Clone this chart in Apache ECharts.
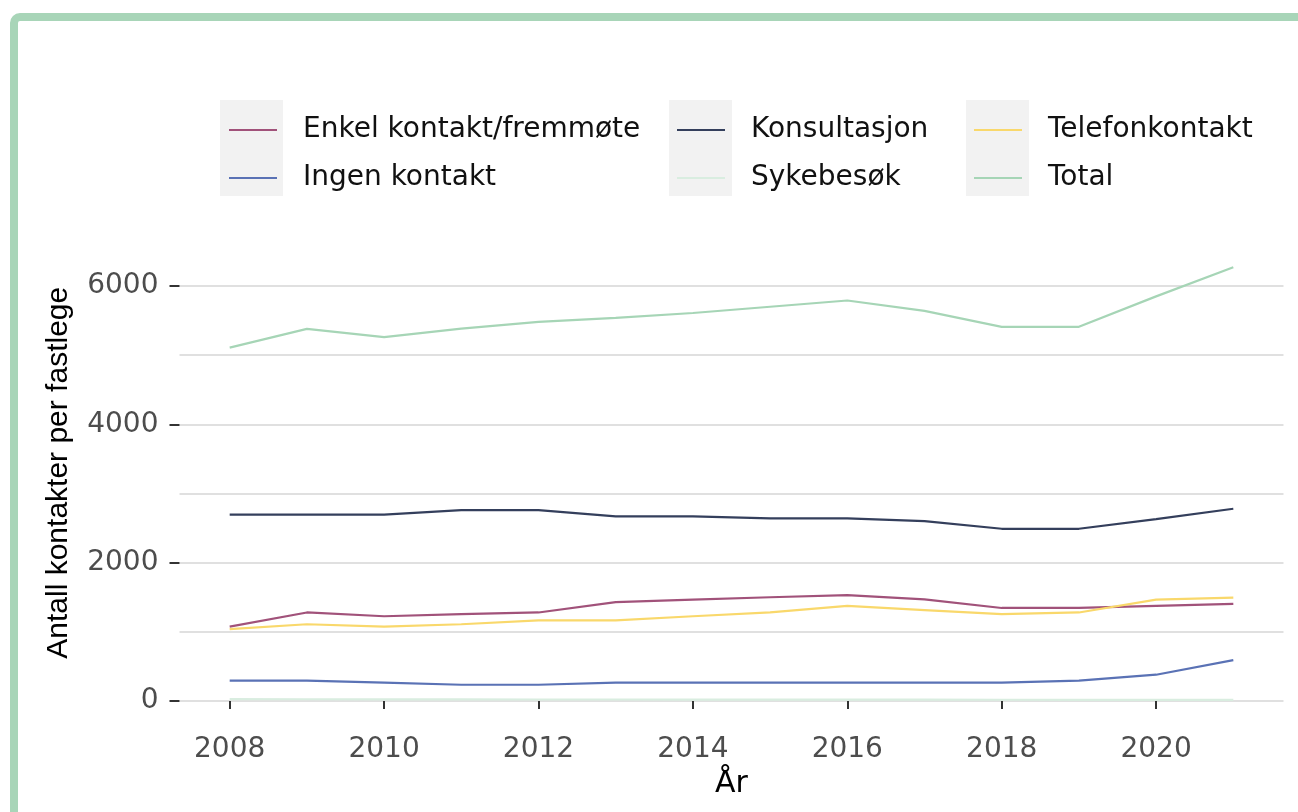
<!DOCTYPE html>
<html>
<head>
<meta charset="utf-8">
<title>Antall kontakter per fastlege</title>
<script src="https://cdn.jsdelivr.net/npm/echarts@6/dist/echarts.min.js"></script>
<style>
  html, body { margin: 0; padding: 0; background: #ffffff; }
  #chart { width: 1298px; height: 812px; }
</style>
</head>
<body>
<div id="chart"></div>
<script>
// Contacts per GP (fastlege) by contact type, 2008–2021
const years = [2008, 2009, 2010, 2011, 2012, 2013, 2014, 2015, 2016, 2017, 2018, 2019, 2020, 2021];
const enkelKontakt  = [1075, 1280, 1225, 1255, 1280, 1430, 1465, 1500, 1530, 1470, 1345, 1345, 1375, 1405];
const konsultasjon  = [2695, 2695, 2695, 2760, 2760, 2670, 2670, 2640, 2640, 2600, 2490, 2490, 2630, 2780];
const telefon       = [1040, 1110, 1075, 1110, 1165, 1165, 1225, 1280, 1375, 1315, 1255, 1280, 1465, 1495];
const ingenKontakt  = [295, 295, 265, 235, 235, 265, 265, 265, 265, 265, 265, 295, 380, 590];
const sykebesok     = [26, 25, 24, 23, 22, 22, 21, 21, 20, 19, 18, 17, 16, 15];
const total         = [5110, 5380, 5260, 5385, 5480, 5540, 5610, 5700, 5790, 5640, 5410, 5410, 5850, 6270];

const xTickYears = [2008, 2010, 2012, 2014, 2016, 2018, 2020];
const yTickValues = [0, 2000, 4000, 6000];

const seriesDefs = [
  { name: 'Enkel kontakt/fremmøte', values: enkelKontakt, color: '#a1527a' },
  { name: 'Ingen kontakt',          values: ingenKontakt, color: '#5a72b5' },
  { name: 'Konsultasjon',           values: konsultasjon, color: '#343f5c' },
  { name: 'Sykebesøk',              values: sykebesok,    color: '#d9ede0' },
  { name: 'Telefonkontakt',         values: telefon,      color: '#f9d86b' },
  { name: 'Total',                  values: total,        color: '#a6d5b6' }
];

const legendText = {
  fontFamily: 'DejaVu Sans', fontSize: 28, color: '#111111',
  lineHeight: 30, padding: [0, 0, 0, 21]
};
function legendColumn(names, left) {
  return {
    orient: 'vertical', left: left, top: 115, padding: 0,
    itemGap: 18, itemWidth: 48, itemHeight: 2, icon: 'rect',
    selectedMode: false, data: names, textStyle: legendText
  };
}

const gridGrey = '#d6d6d6';
const chart = echarts.init(document.getElementById('chart'), null, { renderer: 'canvas' });
chart.setOption({
  animation: false,
  backgroundColor: '#ffffff',
  graphic: [
    { type: 'rect', z: 100, silent: true,
      shape: { x: 14, y: 17, width: 1400, height: 900, r: 6 },
      style: { fill: null, stroke: '#a8d5b8', lineWidth: 8 } },
    // legend key backgrounds
    { type: 'rect', z: -1, silent: true, shape: { x: 220, y: 100, width: 63, height: 96 }, style: { fill: '#f2f2f2' } },
    { type: 'rect', z: -1, silent: true, shape: { x: 669, y: 100, width: 63, height: 96 }, style: { fill: '#f2f2f2' } },
    { type: 'rect', z: -1, silent: true, shape: { x: 966, y: 100, width: 63, height: 96 }, style: { fill: '#f2f2f2' } }
  ],
  legend: [
    legendColumn(['Enkel kontakt/fremmøte', 'Ingen kontakt'], 229),
    legendColumn(['Konsultasjon', 'Sykebesøk'], 677),
    legendColumn(['Telefonkontakt', 'Total'], 974)
  ],
  grid: { left: 179.5, right: 14.5, top: 244.5, bottom: 111, containLabel: false },
  xAxis: {
    type: 'value', min: 2007.35, max: 2021.65, offset: 21,
    name: 'År', nameLocation: 'middle', nameGap: 42,
    nameTextStyle: { fontFamily: 'DejaVu Sans', fontSize: 30, color: '#000000' },
    axisLine: { show: false },
    axisTick: { show: true, length: 8, customValues: xTickYears, lineStyle: { color: '#333333', width: 2 } },
    axisLabel: { customValues: xTickYears, margin: 14, fontFamily: 'DejaVu Sans', fontSize: 28, color: '#4d4d4d',
                 formatter: v => String(v) },
    splitLine: { show: false }
  },
  yAxis: [
    {
      type: 'value', min: 0, max: 6600, interval: 1000,
      axisLine: { show: false }, axisTick: { show: false }, axisLabel: { show: false },
      splitLine: { show: true, lineStyle: {
        color: [gridGrey, gridGrey, gridGrey, gridGrey, gridGrey, gridGrey, gridGrey, 'rgba(0,0,0,0)'],
        width: 1.5 } }
    },
    {
      type: 'value', min: 0, max: 6600, position: 'left',
      name: 'Antall kontakter per fastlege', nameLocation: 'middle', nameRotate: 90, nameGap: 106,
      nameTextStyle: { fontFamily: 'Liberation Sans', fontSize: 30, color: '#000000' },
      axisLine: { show: false },
      axisTick: { show: true, length: 10, customValues: yTickValues, lineStyle: { color: '#333333', width: 2 } },
      axisLabel: { customValues: yTickValues, margin: 21, fontFamily: 'DejaVu Sans', fontSize: 28, color: '#4d4d4d',
                   formatter: v => String(v) },
      splitLine: { show: false }
    }
  ],
  series: seriesDefs.map(s => ({
    name: s.name,
    type: 'line',
    yAxisIndex: 0,
    showSymbol: false,
    symbol: 'none',
    color: s.color,
    lineStyle: { color: s.color, width: 2.2 },
    data: years.map((y, i) => [y, s.values[i]])
  }))
});
</script>
</body>
</html>
